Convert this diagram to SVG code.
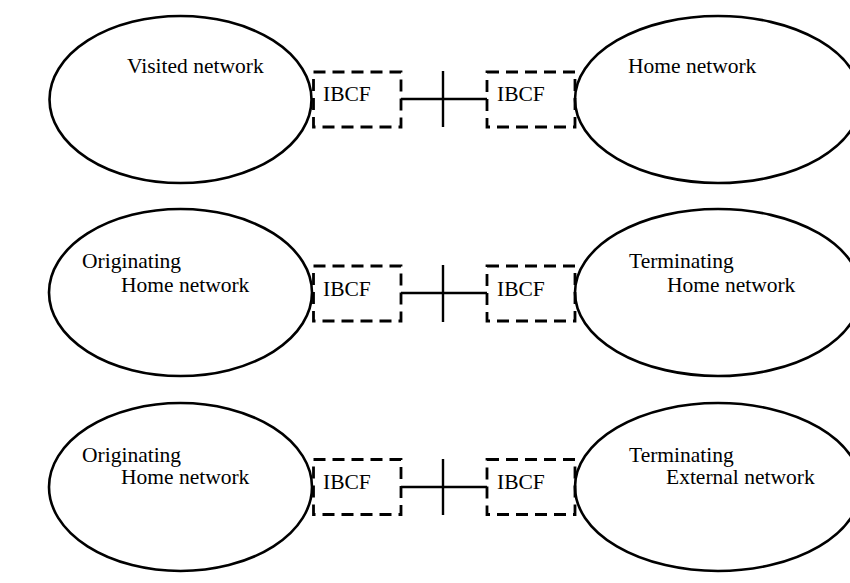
<svg xmlns="http://www.w3.org/2000/svg" width="850" height="583" viewBox="0 0 850 583">
<style>
.net{fill:none;stroke:#000;stroke-width:2.6}
.ibcf{fill:none;stroke:#000;stroke-width:2.8;stroke-dasharray:12 7}
.conn{stroke:#000;stroke-width:2.4;fill:none}
text{font-family:"Liberation Serif","Times New Roman",serif;font-size:21.5px;fill:#000}
</style>
<rect width="850" height="583" fill="#fff"/>
<!-- Row 1 -->
<g id="visited-network">
<ellipse class="net" cx="180.5" cy="99.5" rx="131" ry="83.5"/>
<text x="127" y="73">Visited network</text>
</g>
<g id="ibcf-1a">
<rect class="ibcf" x="313.5" y="72" width="87.5" height="55"/>
<text x="323" y="101">IBCF</text>
</g>
<g id="ibcf-1b">
<rect class="ibcf" x="487" y="72" width="88" height="55"/>
<text x="497" y="101">IBCF</text>
</g>
<g id="home-network">
<ellipse class="net" cx="718" cy="99.5" rx="143" ry="83.5"/>
<text x="628" y="73">Home network</text>
</g>
<!-- Row 2 -->
<g id="originating-home-1">
<ellipse class="net" cx="180.5" cy="292.5" rx="131.5" ry="83.5"/>
<text x="82" y="268">Originating</text>
<text x="121" y="292">Home network</text>
</g>
<g id="ibcf-2a">
<rect class="ibcf" x="313.5" y="266" width="87.5" height="55"/>
<text x="323" y="296">IBCF</text>
</g>
<g id="ibcf-2b">
<rect class="ibcf" x="487" y="266" width="88" height="55"/>
<text x="497" y="296">IBCF</text>
</g>
<g id="terminating-home">
<ellipse class="net" cx="718" cy="292.5" rx="143" ry="83.5"/>
<text x="629" y="268">Terminating</text>
<text x="667" y="292">Home network</text>
</g>
<!-- Row 3 -->
<g id="originating-home-2">
<ellipse class="net" cx="180.5" cy="487" rx="131.5" ry="84"/>
<text x="82" y="462">Originating</text>
<text x="121" y="484">Home network</text>
</g>
<g id="ibcf-3a">
<rect class="ibcf" x="313.5" y="459.5" width="87.5" height="55"/>
<text x="323" y="489">IBCF</text>
</g>
<g id="ibcf-3b">
<rect class="ibcf" x="487" y="459.5" width="88" height="55"/>
<text x="497" y="489">IBCF</text>
</g>
<g id="terminating-external">
<ellipse class="net" cx="718" cy="487" rx="143" ry="84"/>
<text x="629" y="462">Terminating</text>
<text x="666" y="484">External network</text>
</g>
<g id="connectors">
<line class="conn" x1="401" y1="99" x2="487" y2="99"/>
<line class="conn" x1="443" y1="71" x2="443" y2="127"/>
<line class="conn" x1="401" y1="293" x2="487" y2="293"/>
<line class="conn" x1="443" y1="265" x2="443" y2="322"/>
<line class="conn" x1="401" y1="487" x2="487" y2="487"/>
<line class="conn" x1="443" y1="459" x2="443" y2="515"/>
</g>
</svg>
